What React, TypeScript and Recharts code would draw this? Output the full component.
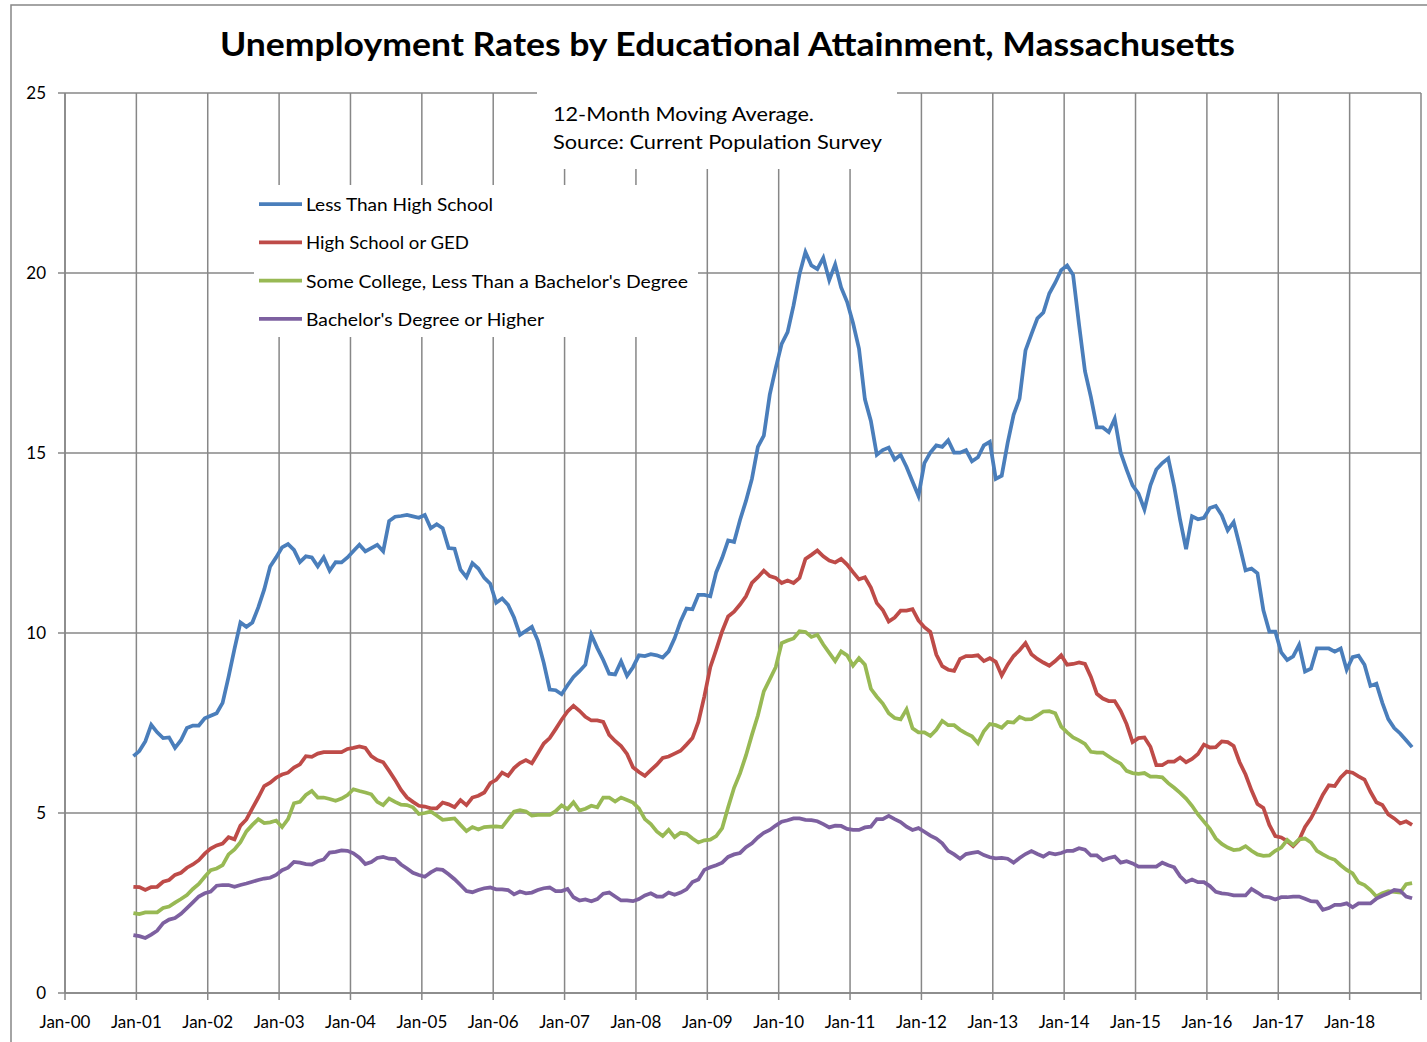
import React from 'react';
import { LineChart, Line, XAxis, YAxis, CartesianGrid } from 'recharts';

// Months counted from Jan-2000; first observation is Dec-2000 (plotted mid-month)
const FIRST_MONTH = 11;

const lessThanHighSchool = [
  6.58, 6.72, 6.99, 7.45, 7.24, 7.08, 7.10, 6.81, 7.02, 7.36,
  7.43, 7.43, 7.63, 7.70, 7.77, 8.06, 8.78, 9.56, 10.29, 10.17,
  10.29, 10.71, 11.21, 11.85, 12.10, 12.38, 12.47, 12.31, 11.97, 12.13,
  12.10, 11.85, 12.10, 11.73, 11.97, 11.96, 12.10, 12.28, 12.45, 12.27,
  12.36, 12.45, 12.27, 13.11, 13.23, 13.25, 13.28, 13.24, 13.20, 13.28,
  12.91, 13.02, 12.91, 12.36, 12.34, 11.76, 11.55, 11.94, 11.79, 11.53,
  11.37, 10.84, 10.96, 10.78, 10.43, 9.95, 10.06, 10.17, 9.79, 9.17,
  8.43, 8.41, 8.30, 8.55, 8.78,
  8.94, 9.12, 9.95, 9.58, 9.25, 8.87, 8.85, 9.21, 8.81, 9.05,
  9.38, 9.36, 9.41, 9.38, 9.32, 9.49, 9.85, 10.32, 10.68, 10.66,
  11.06, 11.06, 11.02, 11.69, 12.09, 12.57, 12.53, 13.14, 13.67, 14.28,
  15.17, 15.48, 16.62, 17.36, 18.03,
  18.36, 19.10, 19.97, 20.58, 20.21, 20.11, 20.42, 19.80, 20.24, 19.60,
  19.20, 18.61, 17.90, 16.49, 15.89, 14.95, 15.08, 15.15, 14.82, 14.95,
  14.61, 14.21, 13.81, 14.72, 15.01, 15.21, 15.17, 15.35, 15.01, 15.01,
  15.08, 14.77, 14.88, 15.21, 15.31, 14.28,
  14.37, 15.28, 16.06, 16.51, 17.85, 18.30, 18.74, 18.90, 19.43, 19.73,
  20.08, 20.21, 19.95, 18.57, 17.27, 16.55, 15.71, 15.71, 15.58, 15.95,
  15.01, 14.54, 14.10, 13.87, 13.43, 14.10, 14.54, 14.72, 14.85, 14.07,
  13.14, 12.33, 13.24, 13.16, 13.20, 13.47,
  13.53, 13.27, 12.85, 13.08, 12.43, 11.74, 11.79, 11.66, 10.63, 10.04,
  10.04, 9.46, 9.25, 9.35, 9.67, 8.93, 9.01, 9.57, 9.57, 9.57,
  9.48, 9.57, 8.98, 9.33, 9.37, 9.12, 8.53, 8.59, 8.06, 7.61,
  7.36, 7.21, 7.02, 6.83,
];

const highSchoolOrGed = [
  2.95, 2.94, 2.86, 2.94, 2.95, 3.09, 3.14, 3.28, 3.34, 3.48,
  3.57, 3.69, 3.87, 4.01, 4.10, 4.15, 4.33, 4.27, 4.65, 4.82,
  5.13, 5.43, 5.75, 5.84, 5.98, 6.07, 6.12, 6.26, 6.35, 6.58,
  6.56, 6.65, 6.69, 6.69, 6.69, 6.69, 6.78, 6.81, 6.85, 6.81,
  6.58, 6.47, 6.41, 6.17, 5.92, 5.64, 5.43, 5.31, 5.20, 5.18,
  5.13, 5.13, 5.29, 5.24, 5.16, 5.36, 5.22, 5.43, 5.48, 5.57,
  5.83, 5.92, 6.12, 6.03, 6.25, 6.39, 6.47, 6.38, 6.65, 6.93,
  7.08, 7.33, 7.59, 7.82, 7.98,
  7.84, 7.67, 7.57, 7.57, 7.53, 7.17, 7.00, 6.86, 6.64, 6.27,
  6.14, 6.03, 6.19, 6.34, 6.53, 6.57, 6.65, 6.73, 6.90, 7.08,
  7.53, 8.24, 9.05, 9.54, 10.05, 10.46, 10.59, 10.79, 11.02, 11.39,
  11.55, 11.73, 11.58, 11.53, 11.39,
  11.46, 11.39, 11.53, 12.06, 12.17, 12.29, 12.13, 12.01, 11.96, 12.06,
  11.90, 11.69, 11.49, 11.55, 11.26, 10.83, 10.64, 10.32, 10.43, 10.62,
  10.62, 10.66, 10.35, 10.16, 10.03, 9.40, 9.08, 8.98, 8.95, 9.28,
  9.36, 9.36, 9.38, 9.22, 9.30, 9.20,
  8.82, 9.12, 9.36, 9.52, 9.72, 9.41, 9.28, 9.18, 9.09, 9.22,
  9.38, 9.12, 9.14, 9.18, 9.14, 8.78, 8.31, 8.18, 8.11, 8.11,
  7.84, 7.47, 6.97, 7.08, 7.10, 6.84, 6.33, 6.33, 6.43, 6.43,
  6.54, 6.41, 6.50, 6.64, 6.90, 6.82,
  6.83, 6.99, 6.97, 6.86, 6.41, 6.07, 5.63, 5.25, 5.14, 4.67,
  4.36, 4.32, 4.22, 4.08, 4.25, 4.61, 4.85, 5.17, 5.51, 5.77,
  5.75, 5.99, 6.15, 6.12, 6.02, 5.93, 5.59, 5.30, 5.22, 4.96,
  4.85, 4.71, 4.77, 4.67,
];

const someCollege = [
  2.22, 2.19, 2.24, 2.24, 2.24, 2.36, 2.40, 2.51, 2.61, 2.72,
  2.89, 3.03, 3.23, 3.41, 3.46, 3.55, 3.85, 3.99, 4.19, 4.49,
  4.67, 4.83, 4.72, 4.74, 4.79, 4.61, 4.83, 5.27, 5.31, 5.50,
  5.61, 5.43, 5.43, 5.39, 5.34, 5.40, 5.50, 5.66, 5.61, 5.57,
  5.52, 5.31, 5.22, 5.40, 5.31, 5.23, 5.22, 5.16, 4.97, 5.00,
  5.04, 4.93, 4.81, 4.83, 4.85, 4.67, 4.50, 4.61, 4.54, 4.61,
  4.62, 4.63, 4.61, 4.82, 5.04, 5.08, 5.04, 4.93, 4.95, 4.95,
  4.95, 5.05, 5.21, 5.11, 5.30,
  5.07, 5.12, 5.20, 5.16, 5.43, 5.43, 5.32, 5.43, 5.36, 5.29,
  5.13, 4.83, 4.69, 4.49, 4.36, 4.53, 4.33, 4.45, 4.42, 4.29,
  4.18, 4.24, 4.26, 4.36, 4.58, 5.16, 5.70, 6.10, 6.60, 7.17,
  7.71, 8.38, 8.71, 9.05, 9.72,
  9.79, 9.85, 10.05, 10.03, 9.89, 9.95, 9.68, 9.45, 9.22, 9.49,
  9.38, 9.09, 9.30, 9.12, 8.45, 8.23, 8.04, 7.77, 7.64, 7.60,
  7.88, 7.35, 7.24, 7.24, 7.14, 7.31, 7.56, 7.44, 7.44, 7.31,
  7.21, 7.13, 6.94, 7.27, 7.47, 7.44,
  7.37, 7.53, 7.51, 7.67, 7.60, 7.61, 7.71, 7.82, 7.83, 7.77,
  7.40, 7.24, 7.10, 7.02, 6.92, 6.70, 6.68, 6.68, 6.57, 6.46,
  6.37, 6.17, 6.11, 6.09, 6.11, 6.01, 6.01, 5.99, 5.83, 5.70,
  5.56, 5.40, 5.20, 4.96, 4.76, 4.56,
  4.29, 4.14, 4.04, 3.97, 3.99, 4.08, 3.95, 3.85, 3.81, 3.82,
  3.95, 4.04, 4.25, 4.11, 4.27, 4.29, 4.18, 3.95, 3.85, 3.76,
  3.70, 3.55, 3.42, 3.32, 3.07, 3.00, 2.86, 2.68, 2.77, 2.83,
  2.81, 2.79, 3.02, 3.05,
];

const bachelorsOrHigher = [
  1.61, 1.58, 1.53, 1.62, 1.73, 1.94, 2.04, 2.08, 2.20, 2.36,
  2.52, 2.68, 2.77, 2.82, 2.98, 3.00, 3.00, 2.95, 3.00, 3.04,
  3.09, 3.14, 3.18, 3.20, 3.28, 3.41, 3.48, 3.64, 3.62, 3.58,
  3.57, 3.66, 3.71, 3.90, 3.92, 3.96, 3.95, 3.88, 3.76, 3.58,
  3.64, 3.75, 3.78, 3.73, 3.72, 3.57, 3.46, 3.34, 3.28, 3.23,
  3.35, 3.44, 3.42, 3.30, 3.16, 3.00, 2.83, 2.80, 2.86, 2.91,
  2.93, 2.88, 2.88, 2.86, 2.74, 2.82, 2.77, 2.79, 2.86, 2.91,
  2.93, 2.83, 2.83, 2.89, 2.66,
  2.57, 2.60, 2.55, 2.61, 2.76, 2.79, 2.68, 2.57, 2.57, 2.55,
  2.61, 2.71, 2.77, 2.68, 2.68, 2.79, 2.73, 2.79, 2.88, 3.08,
  3.15, 3.42, 3.49, 3.55, 3.62, 3.78, 3.85, 3.89, 4.05, 4.16,
  4.32, 4.45, 4.53, 4.65, 4.76,
  4.80, 4.85, 4.85, 4.81, 4.80, 4.77, 4.69, 4.60, 4.65, 4.64,
  4.56, 4.53, 4.53, 4.60, 4.62, 4.83, 4.83, 4.92, 4.83, 4.75,
  4.62, 4.53, 4.58, 4.48, 4.37, 4.29, 4.16, 3.95, 3.85, 3.73,
  3.86, 3.89, 3.92, 3.83, 3.77, 3.74,
  3.75, 3.73, 3.62, 3.75, 3.86, 3.94, 3.86, 3.79, 3.89, 3.85,
  3.89, 3.95, 3.95, 4.02, 3.98, 3.82, 3.82, 3.69, 3.75, 3.79,
  3.62, 3.66, 3.60, 3.51, 3.51, 3.51, 3.51, 3.62, 3.55, 3.49,
  3.24, 3.08, 3.15, 3.08, 3.08, 2.97,
  2.81, 2.77, 2.75, 2.71, 2.71, 2.71, 2.89, 2.79, 2.68, 2.66,
  2.60, 2.66, 2.66, 2.68, 2.68, 2.62, 2.55, 2.54, 2.31, 2.36,
  2.45, 2.45, 2.49, 2.38, 2.49, 2.49, 2.49, 2.62, 2.70, 2.77,
  2.86, 2.84, 2.68, 2.63,
];

const xTickLabels = [
  'Jan-00', 'Jan-01', 'Jan-02', 'Jan-03', 'Jan-04', 'Jan-05', 'Jan-06',
  'Jan-07', 'Jan-08', 'Jan-09', 'Jan-10', 'Jan-11', 'Jan-12', 'Jan-13',
  'Jan-14', 'Jan-15', 'Jan-16', 'Jan-17', 'Jan-18', '',
];
const yTicks = [0, 5, 10, 15, 20, 25];

const seriesNames = [
  'Less Than High School',
  'High School or GED',
  "Some College, Less Than a Bachelor's Degree",
  "Bachelor's Degree or Higher",
];
const seriesKeys = ['lths', 'hs', 'sc', 'ba'];
const seriesColors = ['#4A7EBB', '#BE4B48', '#98B954', '#7D60A0'];
const noteLines = ['12-Month Moving Average.', 'Source: Current Population Survey'];
const title = 'Unemployment Rates by Educational Attainment, Massachusetts';

const xTicks = xTickLabels.map((_, i) => i * 12);

const data = lessThanHighSchool.map((v, i) => ({
  t: FIRST_MONTH + i + 0.5,
  lths: v,
  hs: highSchoolOrGed[i],
  sc: someCollege[i],
  ba: bachelorsOrHigher[i],
}));

const FONT = 'Lato, "Open Sans", sans-serif';
const GRID = '#878787';

const legendTextLen = [187, 163, 382, 238];

export default function App() {
  return (
    <div
      style={{
        position: 'absolute',
        left: 0,
        top: 0,
        width: 1427,
        height: 1042,
        background: '#fff',
        overflow: 'hidden',
        fontFamily: FONT,
      }}
    >
      <div style={{ position: 'absolute', left: 0, top: 0 }}>
        <LineChart
          width={1427}
          height={1042}
          data={data}
          margin={{ top: 93, right: 6, bottom: 9, left: 15 }}
        >
          <CartesianGrid stroke={GRID} strokeWidth={1.5} />
          <XAxis
            type="number"
            dataKey="t"
            domain={[0, 228]}
            ticks={xTicks}
            interval={0}
            allowDataOverflow
            height={40}
            tickSize={7}
            tickMargin={16}
            axisLine={{ stroke: GRID, strokeWidth: 1.5 }}
            tickLine={{ stroke: GRID, strokeWidth: 1.5 }}
            tick={{ fill: '#000', fontSize: 17, fontFamily: FONT }}
            tickFormatter={(v: number) => xTickLabels[Math.round(v / 12)] ?? ''}
          />
          <YAxis
            type="number"
            domain={[0, 25]}
            ticks={yTicks}
            interval={0}
            width={50}
            tickSize={7}
            tickMargin={12}
            axisLine={{ stroke: GRID, strokeWidth: 1.5 }}
            tickLine={{ stroke: GRID, strokeWidth: 1.5 }}
            tick={{ fill: '#000', fontSize: 17, fontFamily: FONT }}
          />
          {seriesKeys.map((k, i) => (
            <Line
              key={k}
              type="linear"
              dataKey={k}
              name={seriesNames[i]}
              stroke={seriesColors[i]}
              strokeWidth={3.75}
              dot={false}
              activeDot={false}
              isAnimationActive={false}
            />
          ))}
        </LineChart>
      </div>
      <svg
        width={1427}
        height={1042}
        style={{ position: 'absolute', left: 0, top: 0, pointerEvents: 'none' }}
      >
        <rect x={11} y={5} width={1500} height={1100} fill="none" stroke={GRID} strokeWidth={1.5} />
        <text
          x={220}
          y={56}
          fontSize={33}
          fontWeight={700}
          fontFamily={FONT}
          fill="#000"
          textLength={1015}
          lengthAdjust="spacingAndGlyphs"
        >
          {title}
        </text>
        <rect x={537} y={91} width={360} height={78} fill="#fff" />
        <text x={553} y={121} fontSize={19} fontFamily={FONT} fill="#000" textLength={261} lengthAdjust="spacingAndGlyphs">
          {noteLines[0]}
        </text>
        <text x={553} y={149} fontSize={19} fontFamily={FONT} fill="#000" textLength={329} lengthAdjust="spacingAndGlyphs">
          {noteLines[1]}
        </text>
        <rect x={254} y={185} width={444} height={152} fill="#fff" />
        {seriesNames.map((name, i) => {
          const cy = 204 + i * 38.3;
          return (
            <g key={name}>
              <line x1={259} x2={302} y1={cy} y2={cy} stroke={seriesColors[i]} strokeWidth={3.75} />
              <text
                x={306}
                y={cy + 7}
                fontSize={17}
                fontFamily={FONT}
                fill="#000"
                textLength={legendTextLen[i]}
                lengthAdjust="spacingAndGlyphs"
              >
                {name}
              </text>
            </g>
          );
        })}
      </svg>
    </div>
  );
}
